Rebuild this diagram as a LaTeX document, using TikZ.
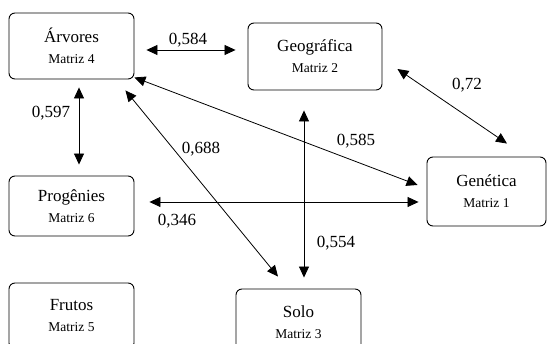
\documentclass[tikz,border=0pt]{standalone}
\usepackage{fontspec}
\setmainfont{Liberation Serif}
\usetikzlibrary{arrows.meta}
\begin{document}
\begin{tikzpicture}[x=1pt,y=-1pt,
  box/.style={draw, line width=0.9pt, rounded corners=6pt, inner sep=0pt, align=center,
    font=\fontsize{17}{21}\selectfont},
  dbl/.style={{Triangle[length=11pt,width=10pt]}-{Triangle[length=11pt,width=10pt]}, line width=0.8pt},
  lbl/.style={anchor=base, inner sep=0pt, font=\fontsize{17}{20}\selectfont}]
\newcommand{\mtz}[1]{{\fontsize{13.5}{16}\selectfont Matriz #1}}
\useasboundingbox (0,0) rectangle (547,344);
\clip (0,0) rectangle (547,344);
\node[box, minimum width=125pt, minimum height=66pt] (arv) at (71.5,46) {Árvores\\\mtz{4}};
\node[box, minimum width=134pt, minimum height=67pt] (geo) at (315,56.5) {Geográfica\\\mtz{2}};
\node[box, minimum width=119pt, minimum height=69pt] (gen) at (486.5,191.5) {Genética\\\mtz{1}};
\node[box, minimum width=125pt, minimum height=66pt] (solo) at (298.5,322) {Solo\\\mtz{3}};
\node[box, minimum width=125pt, minimum height=60pt] (pro) at (71.5,206) {Progênies\\\mtz{6}};
\node[box, minimum width=125pt, minimum height=66pt] (fru) at (71.5,316) {Frutos\\\mtz{5}};
% connectors
\draw[dbl] ([shift={(12,4)}]arv.east) -- ([shift={(-12,-6.5)}]geo.west);
\draw[dbl] ([shift={(7.5,8)}]arv.south) -- ([shift={(7.5,-11)}]pro.north);
\draw[dbl] ([shift={(-9,11)}]arv.south east) -- ([shift={(-20.5,-12)}]solo.north);
\draw[dbl] ([shift={(0,-2)}]arv.south east) -- ([shift={(-9,-6.5)}]gen.west);
\draw[dbl] ([shift={(-11,20)}]geo.south) -- ([shift={(5.5,-11)}]solo.north);
\draw[dbl] ([shift={(15,12.5)}]geo.east) -- ([shift={(20.5,-13)}]gen.north);
\draw[dbl] ([shift={(15,-4)}]pro.east) -- ([shift={(-8,10.5)}]gen.west);
% labels
\node[lbl] (l1) at (188,45) {0,584};
\node[lbl] (l2) at (51,118) {0,597};
\node[lbl] (l3) at (201,154) {0,688};
\node[lbl] (l4) at (356,146) {0,585};
\node[lbl] (l5) at (336,248) {0,554};
\node[lbl] (l6) at (467,90) {0,72};
\node[lbl] (l7) at (177,226) {0,346};
\end{tikzpicture}
\end{document}
